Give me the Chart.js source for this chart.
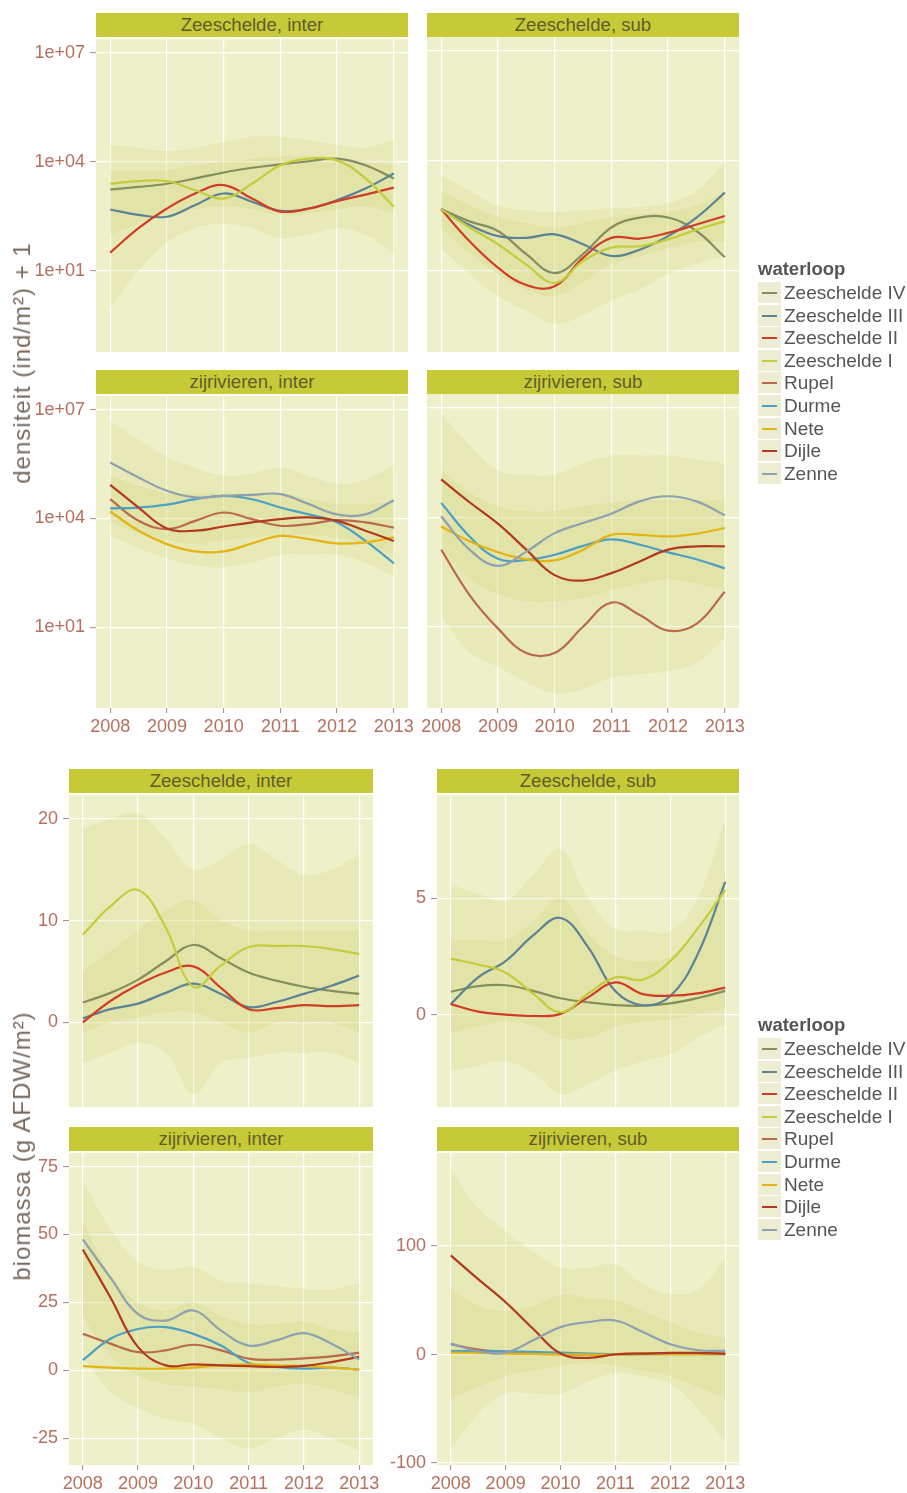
<!DOCTYPE html>
<html lang="nl">
<head>
<meta charset="utf-8"/>
<title>Densiteit en biomassa per waterloop</title>
<script src="https://cdn.jsdelivr.net/npm/chart.js@4.4.3/dist/chart.umd.min.js"></script>
<style>
  body { margin: 0; background: #fff; font-family: "Liberation Sans", Arial, sans-serif; }
  #page { position: relative; width: 907px; height: 1493px; overflow: hidden; }
  .strip { position: absolute; height: 24px; background: #c6ca36; color: #625c2c; font-size: 18.6px; line-height: 24px; text-align: center; }
  .ytitle { position: absolute; white-space: nowrap; font-size: 24px; letter-spacing: 1px; color: #7a6a5e; transform: translate(-50%, -50%) rotate(-90deg); }
  .lg-title { position: absolute; left: 758px; font-size: 18.5px; font-weight: bold; color: #555; line-height: 22px; }
  .lg-row { position: absolute; left: 758px; height: 22px; line-height: 22px; font-size: 19px; color: #555; white-space: nowrap; }
  .lg-key { position: absolute; left: 0; top: 0; width: 23px; height: 21px; background: #ecedd3; }
  .lg-key i { position: absolute; left: 4px; top: 10px; width: 15px; height: 2px; }
  .lg-row span { position: absolute; left: 26px; top: 0; }
</style>
</head>
<body>
<div id="page"></div>
<script>
    const years = [2008, 2008.5, 2009, 2009.5, 2010, 2010.5, 2011, 2011.5, 2012, 2012.5, 2013];
    const yearTicks = [2008, 2009, 2010, 2011, 2012, 2013];
    const waterloop = ['Zeeschelde IV', 'Zeeschelde III', 'Zeeschelde II', 'Zeeschelde I', 'Rupel', 'Durme', 'Nete', 'Dijle', 'Zenne'];

    // densiteit (ind/m²) + 1
    const dZsInterIV  = [1740, 2040, 2500, 3500, 5100, 6900, 8500, 10400, 12300, 8100, 3500];
    const dZsInterIII = [490, 350, 310, 650, 1350, 800, 450, 520, 890, 1850, 4800];
    const dZsInterII  = [32, 150, 520, 1350, 2300, 980, 430, 520, 830, 1260, 1950];
    const dZsInterI   = [2500, 2950, 2950, 1650, 980, 2500, 8100, 12300, 11000, 3500, 580];
    const dZsInterBandOut = [[30000, 25000, 20000, 25000, 35000, 50000, 50000, 40000, 30000, 25000, 40000], [1, 10, 60, 150, 200, 150, 80, 100, 150, 100, 30]];
    const dZsInterBandIn  = [[6000, 6000, 6000, 8000, 10000, 12000, 14000, 14000, 13000, 10000, 8000], [100, 200, 350, 500, 600, 500, 350, 400, 500, 600, 400]];

    const dZsSubIV  = [470, 220, 120, 28, 8.5, 28, 150, 280, 280, 120, 23];
    const dZsSubIII = [470, 175, 87, 78, 97, 52, 25, 37, 87, 280, 1350];
    const dZsSubII  = [470, 63, 12, 4, 3.7, 22, 78, 74, 107, 180, 310];
    const dZsSubI   = [470, 150, 52, 14.5, 4.6, 18, 42, 46, 71, 130, 220];
    const dZsSubBandOut = [[4000, 1500, 600, 450, 400, 450, 500, 550, 700, 1500, 9000], [40, 8, 2, 0.8, 0.35, 0.6, 1.5, 3, 8, 15, 25]];
    const dZsSubBandIn  = [[1500, 600, 300, 200, 150, 200, 300, 350, 400, 600, 1500], [150, 30, 8, 3, 2, 5, 15, 25, 40, 60, 60]];

    const dZrInterRupel = [34000, 8600, 5100, 8600, 14600, 9600, 6300, 7000, 9000, 7800, 5600];
    const dZrInterDurme = [19000, 20000, 24000, 34000, 42000, 34000, 20000, 13000, 7800, 2400, 580];
    const dZrInterNete  = [15600, 4600, 1960, 1230, 1230, 2050, 3300, 2700, 2050, 2200, 3000];
    const dZrInterDijle = [85000, 20000, 5300, 4600, 6000, 7800, 9600, 10700, 8600, 4600, 2400];
    const dZrInterZenne = [350000, 135000, 58000, 38000, 42000, 45000, 47000, 25000, 13000, 13000, 32000];
    const dZrInterBandOut = [[5e6, 1.5e6, 5e5, 2.5e5, 1.5e5, 1.8e5, 2.5e5, 1.5e5, 9e4, 1.2e5, 3e5], [3500, 1500, 800, 500, 450, 600, 1000, 1000, 1000, 600, 250]];
    const dZrInterBandIn  = [[1.5e5, 8e4, 5e4, 5e4, 5e4, 5e4, 5e4, 3.5e4, 2.5e4, 2.5e4, 3e4], [8000, 4000, 2500, 2000, 2500, 3000, 3500, 3500, 3000, 2000, 1000]];

    const dZrSubRupel = [1300, 74, 9, 1.9, 1.9, 10, 46, 21, 7.8, 12, 91];
    const dZrSubDurme = [25000, 3000, 730, 680, 940, 1650, 2500, 1780, 1100, 710, 400];
    const dZrSubNete  = [5600, 2200, 1100, 710, 660, 1300, 3300, 3300, 3000, 3550, 5100];
    const dZrSubDijle = [110000, 26000, 6700, 1300, 260, 185, 295, 620, 1300, 1600, 1600];
    const dZrSubZenne = [10700, 1300, 470, 1150, 3700, 7000, 12600, 27500, 38000, 27500, 11400];
    const dZrSubBandOut = [[7e6, 1e6, 2e5, 1.5e5, 1.5e5, 3e5, 5e5, 5e5, 5e5, 4e5, 3e5], [20, 2, 0.8, 0.3, 0.15, 0.2, 0.4, 0.5, 0.6, 1, 5]];
    const dZrSubBandIn  = [[2e5, 5e4, 2e4, 1.5e4, 1.5e4, 2e4, 2.5e4, 3e4, 3e4, 3e4, 3e4], [1500, 200, 80, 50, 50, 60, 100, 150, 200, 150, 100]];

    // biomassa (g AFDW/m²)
    const bZsInterIV  = [1.95, 2.9, 4.2, 6.0, 7.6, 6.3, 4.9, 4.1, 3.5, 3.1, 2.8];
    const bZsInterIII = [0.4, 1.3, 1.85, 2.9, 3.8, 2.8, 1.5, 2.0, 2.8, 3.6, 4.6];
    const bZsInterII  = [0, 2.1, 3.7, 4.9, 5.5, 3.4, 1.3, 1.4, 1.7, 1.6, 1.7];
    const bZsInterI   = [8.6, 11.4, 13.0, 9.3, 3.5, 5.6, 7.4, 7.5, 7.5, 7.2, 6.7];
    const bZsInterBandOut = [[19, 20, 20.5, 18, 15, 16, 17.5, 16, 14.5, 15, 16.5], [-4, -3, -2, -3, -7, -4, -3.5, -3, -3, -3, -4]];
    const bZsInterBandIn  = [[5, 7, 9, 11, 12, 10, 9, 9, 9, 9, 9], [-1, 0, 0.5, 1, 1, 0, -1, 0, 0, 0, -1]];

    const bZsSubIV  = [0.98, 1.22, 1.26, 1.02, 0.7, 0.53, 0.41, 0.38, 0.48, 0.71, 1.02];
    const bZsSubIII = [0.45, 1.6, 2.3, 3.4, 4.15, 2.9, 1.0, 0.4, 0.8, 2.6, 5.7];
    const bZsSubII  = [0.45, 0.13, 0, -0.06, 0.03, 0.74, 1.38, 0.88, 0.81, 0.91, 1.16];
    const bZsSubI   = [2.4, 2.15, 1.8, 0.9, 0.1, 0.9, 1.6, 1.5, 2.3, 3.7, 5.35];
    const bZsSubBandOut = [[5.6, 5.2, 4.9, 6, 7.1, 5, 3.7, 3.6, 3.6, 5, 8.4], [-2.4, -2.2, -2.0, -2.5, -3.4, -3, -2.4, -2, -1.7, -1, -0.4]];
    const bZsSubBandIn  = [[3.2, 3.2, 3.2, 4, 5, 3.5, 2.5, 2.3, 2.5, 3.5, 6], [-0.8, -0.5, -0.3, -0.5, -1, -1, -0.5, -0.3, -0.2, 0, 0.3]];

    const bZrInterRupel = [13.4, 9.8, 6.7, 7.3, 9.4, 7.3, 4.3, 3.9, 4.4, 5.1, 6.5];
    const bZrInterDurme = [3.7, 11.6, 15.2, 15.9, 13.4, 9.1, 2.7, 1.2, 0.6, 1.0, 0.2];
    const bZrInterNete  = [1.5, 1.0, 0.6, 0.6, 1.0, 1.8, 2.2, 1.8, 1.5, 1.0, 0.2];
    const bZrInterDijle = [44.5, 26.8, 8.5, 1.8, 2.2, 1.8, 1.5, 1.2, 1.6, 3.0, 4.9];
    const bZrInterZenne = [48.2, 34.1, 20.7, 18.3, 22.0, 14.6, 9.1, 11.0, 13.7, 9.8, 3.9];
    const bZrInterBandOut = [[70, 52, 40, 37, 38, 33, 32, 31, 30, 30, 32], [5, -8, -14, -18, -20, -25, -29, -25, -22, -25, -30]];
    const bZrInterBandIn  = [[55, 35, 25, 22, 25, 20, 17, 17, 18, 15, 14], [20, 5, -2, -5, -6, -7, -8, -6, -5, -7, -10]];

    const bZrSubRupel = [9.5, 4.6, 2.4, 0.9, 0.3, 0, 0.3, 0.9, 0.9, 0.9, 0.9];
    const bZrSubDurme = [3.4, 3.0, 3.0, 2.4, 1.8, 0.9, 0.3, 0.3, 0.3, 0.3, 0.3];
    const bZrSubNete  = [1.8, 1.5, 0.9, 0.6, 0.3, 0, 0, 0.3, 0.3, 0.3, 0.3];
    const bZrSubDijle = [91.5, 69.5, 48.2, 23.8, 0.9, -3.0, 0.3, 0.9, 1.5, 1.5, 0.9];
    const bZrSubZenne = [10.1, 3.0, 1.8, 13.1, 25.3, 29.9, 31.4, 20.7, 9.5, 4.0, 3.4];
    const bZrSubBandOut = [[172, 135, 114, 95, 80, 80, 83, 65, 56, 60, 89], [-87, -55, -36, -36, -36, -25, -17, -20, -27, -50, -81]];
    const bZrSubBandIn  = [[60, 45, 40, 45, 55, 52, 50, 40, 30, 20, 15], [-40, -30, -20, -15, -10, -8, -10, -15, -20, -30, -40]];

    const densTicks = [10, 1e4, 1e7];

    // colours
    const colourOf = {
      'Zeeschelde IV': '#858e5e', 'Zeeschelde III': '#5b8295', 'Zeeschelde II': '#d23c27',
      'Zeeschelde I': '#c3cd3c', 'Rupel': '#b9694c', 'Durme': '#4e9fc4',
      'Nete': '#e4b412', 'Dijle': '#b1391d', 'Zenne': '#8ea1ae'
    };
    const PANEL_BG = '#eef0c9';
    const BAND_OUT = 'rgba(205,210,110,0.2)';
    const BAND_IN = 'rgba(200,205,100,0.2)';
    const LABEL = '#b4705c';
    const TICK = '#a88a7c';
    const FONT = '"Liberation Sans", Arial, sans-serif';

    const zs = (iv, iii, ii, i) => [['Zeeschelde IV', iv], ['Zeeschelde III', iii], ['Zeeschelde II', ii], ['Zeeschelde I', i]];
    const zr = (ru, du, ne, di, ze) => [['Rupel', ru], ['Durme', du], ['Nete', ne], ['Dijle', di], ['Zenne', ze]];
    const LOG_MIN = Math.pow(10, -1.23), LOG_MAX = Math.pow(10, 7.385);

    // box = plot area [left, top, right, bottom] in page pixels
    const panels = [
      { title: 'Zeeschelde, inter', box: [96, 37, 408, 352], log: true, yLab: true, xLab: false,
        min: LOG_MIN, max: LOG_MAX, ticks: densTicks, series: zs(dZsInterIV, dZsInterIII, dZsInterII, dZsInterI), bands: [dZsInterBandOut, dZsInterBandIn] },
      { title: 'Zeeschelde, sub', box: [427, 37, 739, 352], log: true, yLab: false, xLab: false,
        min: LOG_MIN, max: LOG_MAX, ticks: densTicks, series: zs(dZsSubIV, dZsSubIII, dZsSubII, dZsSubI), bands: [dZsSubBandOut, dZsSubBandIn] },
      { title: 'zijrivieren, inter', box: [96, 394, 408, 708], log: true, yLab: true, xLab: true,
        min: LOG_MIN, max: LOG_MAX, ticks: densTicks, series: zr(dZrInterRupel, dZrInterDurme, dZrInterNete, dZrInterDijle, dZrInterZenne), bands: [dZrInterBandOut, dZrInterBandIn] },
      { title: 'zijrivieren, sub', box: [427, 394, 739, 708], log: true, yLab: false, xLab: true,
        min: LOG_MIN, max: LOG_MAX, ticks: densTicks, series: zr(dZrSubRupel, dZrSubDurme, dZrSubNete, dZrSubDijle, dZrSubZenne), bands: [dZrSubBandOut, dZrSubBandIn] },
      { title: 'Zeeschelde, inter', box: [69, 793, 373, 1107], log: false, yLab: true, xLab: false,
        min: -8.3, max: 22.34, ticks: [0, 10, 20], series: zs(bZsInterIV, bZsInterIII, bZsInterII, bZsInterI), bands: [bZsInterBandOut, bZsInterBandIn] },
      { title: 'Zeeschelde, sub', box: [437, 793, 739, 1107], log: false, yLab: true, xLab: false,
        min: -3.97, max: 9.44, ticks: [0, 5], series: zs(bZsSubIV, bZsSubIII, bZsSubII, bZsSubI), bands: [bZsSubBandOut, bZsSubBandIn] },
      { title: 'zijrivieren, inter', box: [69, 1151, 373, 1465], log: false, yLab: true, xLab: true,
        min: -34.9, max: 80.1, ticks: [-25, 0, 25, 50, 75], series: zr(bZrInterRupel, bZrInterDurme, bZrInterNete, bZrInterDijle, bZrInterZenne), bands: [bZrInterBandOut, bZrInterBandIn] },
      { title: 'zijrivieren, sub', box: [437, 1151, 739, 1465], log: false, yLab: true, xLab: true,
        min: -101.8, max: 186, ticks: [-100, 0, 100], series: zr(bZrSubRupel, bZrSubDurme, bZrSubNete, bZrSubDijle, bZrSubZenne), bands: [bZrSubBandOut, bZrSubBandIn] }
    ];

    const page = document.getElementById('page');
    const TOP = 14, XH = 34, RIGHT = 24;
    const pts = arr => years.map((x, i) => ({ x, y: arr[i] }));
    const sci = v => '1e+' + String(Math.round(Math.log10(v))).padStart(2, '0');

    const panelBg = {
      id: 'panelBg',
      beforeDraw(chart) {
        const { ctx, chartArea: a } = chart;
        ctx.save();
        ctx.fillStyle = PANEL_BG;
        ctx.fillRect(a.left, a.top, a.right - a.left, a.bottom - a.top);
        ctx.restore();
      }
    };

    panels.forEach(p => {
      const [x0, y0, x1, y1] = p.box;
      const yW = p.yLab ? 80 : 20;
      const w = x1 - x0 + yW + RIGHT, h = y1 - y0 + TOP + XH;

      const strip = document.createElement('div');
      strip.className = 'strip';
      strip.style.left = x0 + 'px';
      strip.style.top = (y0 - 24) + 'px';
      strip.style.width = (x1 - x0) + 'px';
      strip.textContent = p.title;
      page.appendChild(strip);

      const cv = document.createElement('canvas');
      cv.width = w; cv.height = h;
      cv.style.cssText = `position:absolute;left:${x0 - yW}px;top:${y0 - TOP}px;width:${w}px;height:${h}px`;
      page.appendChild(cv);

      const datasets = [];
      p.bands.forEach((b, k) => {
        datasets.push({ data: pts(b[0]), borderWidth: 0, pointRadius: 0, fill: false, tension: 0.4, order: 100 });
        datasets.push({ data: pts(b[1]), borderWidth: 0, pointRadius: 0, fill: '-1', tension: 0.4, order: 100,
          backgroundColor: k === 0 ? BAND_OUT : BAND_IN });
      });
      p.series.forEach(([name, arr], i) => {
        datasets.push({ label: name, data: pts(arr), borderColor: colourOf[name], borderWidth: 2.2,
          pointRadius: 0, tension: 0.4, fill: false, order: 50 - i });
      });

      new Chart(cv, {
        type: 'line',
        data: { datasets },
        plugins: [panelBg],
        options: {
          responsive: false, animation: false,
          layout: { padding: { top: TOP, right: RIGHT, bottom: 0, left: 0 } },
          plugins: { legend: { display: false }, tooltip: { enabled: false } },
          scales: {
            x: {
              type: 'linear', min: 2007.75, max: 2013.25,
              afterBuildTicks: s => { s.ticks = yearTicks.map(v => ({ value: v })); },
              afterFit: s => { s.height = XH; },
              grid: { color: '#ffffff', lineWidth: 1.2, drawTicks: p.xLab, tickLength: 5, tickColor: TICK, tickWidth: 1 },
              border: { display: false },
              ticks: { display: p.xLab, color: LABEL, font: { size: 18, family: FONT }, padding: 3,
                maxRotation: 0, autoSkip: false, callback: v => String(v) }
            },
            y: {
              type: p.log ? 'logarithmic' : 'linear', min: p.min, max: p.max, bounds: 'data',
              afterBuildTicks: s => { s.ticks = p.ticks.map(v => ({ value: v })); },
              afterFit: s => { s.width = yW; },
              grid: { color: '#ffffff', lineWidth: 1.2, drawTicks: p.yLab, tickLength: 6, tickColor: TICK, tickWidth: 1 },
              border: { display: false },
              ticks: { display: p.yLab, color: LABEL, font: { size: 18, family: FONT }, padding: 5,
                callback: p.log ? sci : v => String(v) }
            }
          }
        }
      });
    });

    // axis titles
    [['densiteit (ind/m²) + 1', 363], ['biomassa (g AFDW/m²)', 1146]].forEach(([txt, cy]) => {
      const d = document.createElement('div');
      d.className = 'ytitle';
      d.style.left = '22px';
      d.style.top = cy + 'px';
      d.textContent = txt;
      page.appendChild(d);
    });

    // legends
    [269, 1025].forEach(ty => {
      const t = document.createElement('div');
      t.className = 'lg-title';
      t.style.top = (ty - 11) + 'px';
      t.textContent = 'waterloop';
      page.appendChild(t);
      waterloop.forEach((name, i) => {
        const r = document.createElement('div');
        r.className = 'lg-row';
        r.style.top = (ty + 24 + i * 22.6 - 11) + 'px';
        r.innerHTML = `<div class="lg-key"><i style="background:${colourOf[name]}"></i></div><span>${name}</span>`;
        page.appendChild(r);
      });
    });
</script>
</body>
</html>
